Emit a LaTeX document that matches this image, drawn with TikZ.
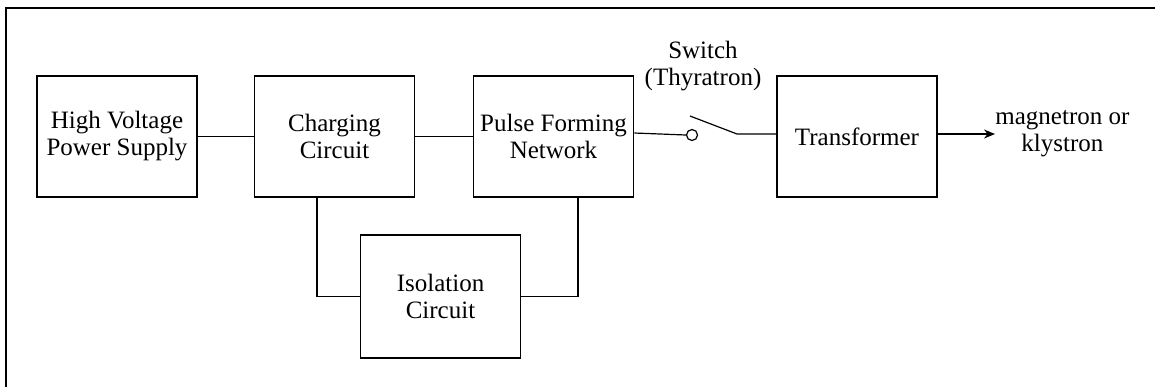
\documentclass[tikz,border=0pt]{standalone}
\usepackage{fontspec}
\setmainfont{Liberation Serif}
\usetikzlibrary{arrows.meta}
\begin{document}
\begin{tikzpicture}[x=0.5pt,y=-0.5pt,
  blk/.style={draw, line width=0.8pt, minimum width=80pt, minimum height=60.5pt,
    inner sep=0pt, align=center, font=\fontsize{12.5}{13.5}\selectfont},
  lbl/.style={inner sep=0pt, align=center, font=\fontsize{12.5}{13.5}\selectfont},
  wire/.style={line width=0.6pt},
  frame/.style={line width=1.1pt}]
\useasboundingbox (0,0) rectangle (1155,387);
\coordinate (fbl) at (6,387);
\coordinate (ftl) at (6,8);
\coordinate (ftr) at (1155,8);
\draw[frame] (fbl) -- (ftl) -- (ftr);

\node[blk] (hv)  at (117,136.5)   {High Voltage\\Power Supply};
\node[blk] (chg) at (334.5,136.5) {Charging\\Circuit};
\node[blk] (pfn) at (553.5,136.5) {Pulse Forming\\Network};
\node[blk] (tr)  at (857,136.5)   {Transformer};
\node[blk, minimum height=61.5pt] (iso) at (440.5,296.5) {Isolation\\Circuit};

\node[lbl] (sw) at (703,66) {Switch\\(Thyratron)};
\node[lbl, anchor=west] (out) at (995,134) {magnetron or\\klystron};

\node[draw, circle, line width=0.6pt, minimum size=5.5pt, inner sep=0pt] (sc) at (692,135) {};
\coordinate (bs) at (690,116);
\coordinate (be) at (737,134);

\draw[wire] (hv.east) -- (chg.west);
\draw[wire] (chg.east) -- (pfn.west);
\draw[wire] (pfn.east |- 0,133) -- (sc.west);
\draw[wire] (bs) -- (be) -- (tr.west |- be);
\draw[wire, -{Stealth[length=5.5pt,width=4.5pt]}] (tr.east |- out.west) -- (out.west);
\draw[wire] ([xshift=-8.75pt]chg.south) |- (iso.west);
\draw[wire] ([xshift=12.25pt]pfn.south) |- (iso.east);
\end{tikzpicture}
\end{document}
